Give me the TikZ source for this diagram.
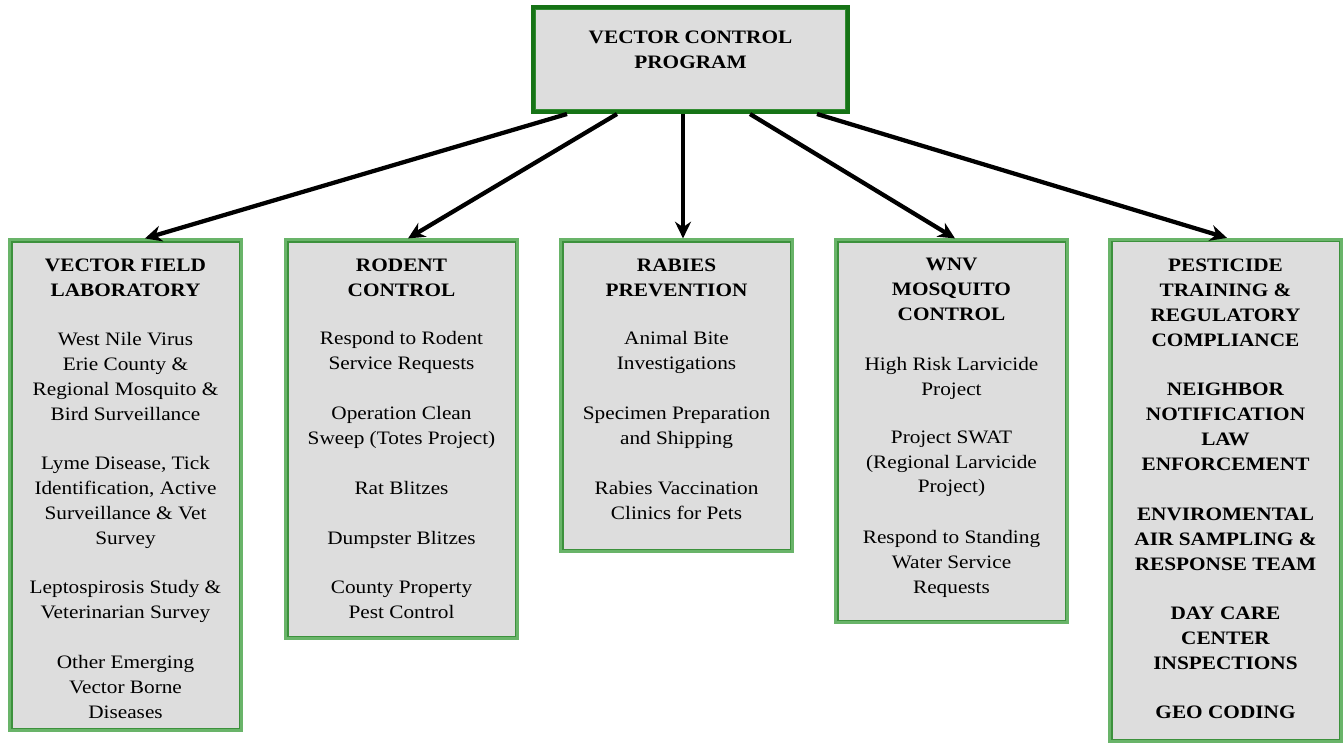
\documentclass[tikz,border=0pt]{standalone}
\usepackage{fontspec}
\setmainfont{Liberation Serif}[FakeStretch=1.12]
\usetikzlibrary{arrows.meta,calc}
\definecolor{boxgray}{RGB}{221,221,221}
\definecolor{topgreen}{RGB}{22,115,22}
\definecolor{topinner}{RGB}{50,140,50}
\definecolor{lowgreen}{RGB}{105,180,105}
\definecolor{lowinner}{RGB}{60,145,60}
\tikzset{
  topbox/.style={draw=topgreen, line width=3pt, fill=white, inner sep=0pt},
  topinnerline/.style={draw=topinner, line width=1.2pt, fill=boxgray},
  lowbox/.style={draw=lowgreen, line width=2.4pt, fill=white, inner sep=0pt, minimum width=173.25pt},
  lowinnerline/.style={draw=lowinner, line width=0.9pt, fill=boxgray},
  head/.style={font=\fontsize{14.25}{18.7}\selectfont\bfseries, align=center, anchor=north, inner sep=0pt},
  body/.style={font=\fontsize{14.25}{18.6}\selectfont, align=center, anchor=north, inner sep=0pt},
  arr/.style={line width=3.2pt, -{Stealth[length=12.5pt,width=12pt]}},
}
\begin{document}
\begin{tikzpicture}[x=0.75pt,y=-0.75pt]
\fill[white] (0,0) rectangle (1343,744);
\useasboundingbox (0,0) rectangle (1343,744);

% top box
\node[topbox, minimum width=236.25pt, minimum height=78.75pt] (vcp) at (690.5,59.5) {};
\draw[topinnerline] ($(vcp.north west)+(4.5,4.5)$) rectangle ($(vcp.south east)+(-4.5,-4.5)$);

% lower boxes
\node[lowbox, minimum height=367.5pt] (b1) at (125.5,485) {};
\node[lowbox, minimum height=298.5pt] (b2) at (401.5,439) {};
\node[lowbox, minimum height=233.25pt] (b3) at (676.5,395.5) {};
\node[lowbox, minimum height=286.5pt] (b4) at (951.5,431) {};
\node[lowbox, minimum height=376.5pt] (b5) at (1225.5,490.5) {};
\foreach \b in {b1,b2,b3,b4,b5}
  \draw[lowinnerline] ($(\b.north west)+(3.5,3.5)$) rectangle ($(\b.south east)+(-3.5,-3.5)$);

% texts
\node[head] (vcpt) at (690.5,30.5) {VECTOR CONTROL\\PROGRAM};

\node[head] (b1h) at (125.5,258.5) {VECTOR FIELD\\LABORATORY};
\node[body] (b1p1) at (125.5,332.5) {West Nile Virus\\Erie County \&\\Regional Mosquito \&\\Bird Surveillance};
\node[body] (b1p2) at (125.5,456.5) {Lyme Disease, Tick\\Identification, Active\\Surveillance \& Vet\\Survey};
\node[body] (b1p3) at (125.5,580.5) {Leptospirosis Study \&\\Veterinarian Survey};
\node[body] (b1p4) at (125.5,655.5) {Other Emerging\\Vector Borne\\Diseases};

\node[head] (b2h) at (401.5,258.5) {RODENT\\CONTROL};
\node[body] (b2p1) at (401.5,331.5) {Respond to Rodent\\Service Requests};
\node[body] (b2p2) at (401.5,406.5) {Operation Clean\\Sweep (Totes Project)};
\node[body] (b2p3) at (401.5,481.5) {Rat Blitzes};
\node[body] (b2p4) at (401.5,531.5) {Dumpster Blitzes};
\node[body] (b2p5) at (401.5,580.5) {County Property\\Pest Control};

\node[head] (b3h) at (676.5,258.5) {RABIES\\PREVENTION};
\node[body] (b3p1) at (676.5,331.5) {Animal Bite\\Investigations};
\node[body] (b3p2) at (676.5,406.5) {Specimen Preparation\\and Shipping};
\node[body] (b3p3) at (676.5,481.5) {Rabies Vaccination\\Clinics for Pets};

\node[head] (b4h) at (951.5,257.5) {WNV\\MOSQUITO\\CONTROL};
\node[body] (b4p1) at (951.5,357.5) {High Risk Larvicide\\Project};
\node[body] (b4p2) at (951.5,430.5) {Project SWAT\\(Regional Larvicide\\Project)};
\node[body] (b4p3) at (951.5,530.5) {Respond to Standing\\Water Service\\Requests};

\node[head] (b5p1) at (1225.5,258.5) {PESTICIDE\\TRAINING \&\\REGULATORY\\COMPLIANCE};
\node[head] (b5p2) at (1225.5,382.5) {NEIGHBOR\\NOTIFICATION\\LAW\\ENFORCEMENT};
\node[head] (b5p3) at (1225.5,508) {ENVIROMENTAL\\AIR SAMPLING \&\\RESPONSE TEAM};
\node[head] (b5p4) at (1225.5,606.5) {DAY CARE\\CENTER\\INSPECTIONS};
\node[head] (b5p5) at (1225.5,705.5) {GEO CODING};

% arrows
\draw[arr] ($(vcp.south)+(-123.5,0)$) -- ($(b1.north)+(19.5,0)$);
\draw[arr] ($(vcp.south)+(-73.5,0)$) -- ($(b2.north)+(6.5,0)$);
\draw[arr] ($(vcp.south)+(-7.5,0)$) -- ($(b3.north)+(6.5,0)$);
\draw[arr] ($(vcp.south)+(59.5,0)$) -- ($(b4.north)+(3.5,0)$);
\draw[arr] ($(vcp.south)+(126.5,0)$) -- ($(b5.north)+(1.5,0)$);
\end{tikzpicture}
\end{document}
